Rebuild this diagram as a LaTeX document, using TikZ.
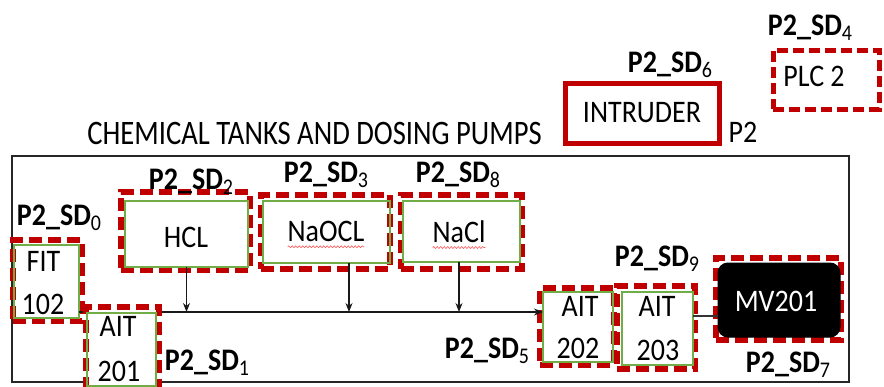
\documentclass[tikz,border=0pt]{standalone}
\usepackage{graphicx}
\usepackage{fontspec}
\setmainfont{Carlito}
\usetikzlibrary{arrows.meta,decorations.pathmorphing}
\definecolor{dred}{RGB}{192,0,0}
\definecolor{igreen}{RGB}{112,173,71}
\definecolor{lblue}{RGB}{0,176,240}
\definecolor{squigred}{RGB}{255,90,90}
\newcommand{\vs}[1]{\scalebox{1}[1.12]{#1}}
\newcommand{\sdlabel}[1]{\vs{P2\_SD\raisebox{-5pt}{\mdseries\fontsize{20}{20}\selectfont #1}}}
\begin{document}
\begin{tikzpicture}[x=1pt,y=-1pt,
  every node/.style={inner sep=0pt, outer sep=0pt},
  frame/.style={draw=black!85, line width=1.6pt},
  sdbox/.style={draw=dred, line width=6pt, dash pattern=on 13pt off 6pt},
  gbox/.style={draw=igreen, line width=1.2pt},
  plcbox/.style={preaction={draw=lblue, line width=0.9pt}, draw=dred, line width=5pt, dash pattern=on 11pt off 5pt},
  intbox/.style={draw=dred, line width=5pt},
  mvbox/.style={draw=black, fill=black, rounded corners=10pt, line width=1pt},
  txt/.style={font=\fontsize{28}{34}\selectfont},
  lbl/.style={font=\bfseries\fontsize{28}{34}\selectfont, anchor=base},
  flow/.style={line width=1.3pt, draw=black!90, -{Stealth[length=9pt,width=7pt]}},
  plain/.style={line width=1.3pt, draw=black!80},
  squig/.style={draw=squigred, line width=0.6pt, decorate, decoration={snake, amplitude=1pt, segment length=3.5pt}}
]
\useasboundingbox (0,0) rectangle (884,386);
\coordinate (bus) at (0,312);
\coordinate (mvline) at (0,316);

% frame and title
\node[frame, minimum width=837pt, minimum height=226pt] (frame) at (430.5,269) {};
\node[font=\fontsize{28.6}{34}\selectfont] (title) at (314.5,133.5) {\scalebox{1}[1.2]{CHEMICAL TANKS AND DOSING PUMPS}};

% boxes (outer dashed)
\node[sdbox, minimum width=129pt, minimum height=78pt] (hclo) at (185.5,231) {};
\node[sdbox, minimum width=129pt, minimum height=74pt] (naoclo) at (325.5,232) {};
\node[sdbox, minimum width=121pt, minimum height=74pt] (naclo) at (461.5,232) {};
\node[sdbox, minimum width=69pt, minimum height=81pt] (fito) at (47.5,280.5) {};
\node[sdbox, minimum width=74pt, minimum height=77pt] (ait202o) at (577,326.5) {};
\node[sdbox, minimum width=78pt, minimum height=83pt] (ait203o) at (656,327.5) {};
\node[sdbox, minimum width=125pt, minimum height=82pt] (mvo) at (778.5,299) {};
\node[plcbox, minimum width=106pt, minimum height=59pt] (plc) at (826,79.5) {};
\node[intbox, minimum width=154pt, minimum height=60pt] (intruder) at (642.5,113.5) {};

% inner boxes
\node[gbox, minimum width=123pt, minimum height=66pt] (hcli) at (186.5,234) {};
\node[gbox, minimum width=127pt, minimum height=62pt] (naocli) at (326.5,232) {};
\node[gbox, minimum width=117pt, minimum height=61pt] (nacli) at (461.5,231.5) {};
\node[gbox, minimum width=65pt, minimum height=73pt] (fiti) at (46.5,281.5) {};
\node[gbox, minimum width=70pt, minimum height=70pt] (ait202i) at (578,327) {};
\node[gbox, minimum width=71pt, minimum height=73pt] (ait203i) at (657.5,328.5) {};
\node[mvbox, minimum width=122pt, minimum height=74pt] (mvi) at (779,300) {};

% connectors
\draw[flow] (fiti.east |- bus) -- (ait202i.west |- bus);
\draw[flow] (hcli.south) -- (hcli.south |- bus);
\draw[flow] ([xshift=22.5pt]naocli.south) -- ([xshift=22.5pt]naocli.south |- bus);
\draw[flow] ([xshift=-2.5pt]nacli.south) -- ([xshift=-2.5pt]nacli.south |- bus);
\draw[plain] (ait203i.east |- mvline) -- (mvi.west |- mvline);

% AIT 201 (drawn over the bus line)
\node[sdbox, fill=white, minimum width=73pt, minimum height=88pt] (ait201o) at (122.5,351) {};
\node[gbox, minimum width=69pt, minimum height=73pt] (ait201i) at (121.5,349.5) {};

% texts
\node[txt] (hcl) at (186,237) {\vs{HCL}};
\node[txt] (naocl) at (326,231.5) {\vs{NaOCL}};
\node[txt] (nacl) at (459,231.5) {\vs{NaCl}};
\draw[squig] ([yshift=-5pt]naocl.south west) -- ([yshift=-5pt]naocl.south east);
\draw[squig] ([yshift=-5pt]nacl.south west) -- ([yshift=-5pt]nacl.south east);
\node[txt] (fit1) at (43.5,261) {\vs{FIT}};
\node[txt] (fit2) at (43,304.5) {\vs{102}};
\node[txt] (a2011) at (118,326.5) {\vs{AIT}};
\node[txt] (a2012) at (119,371) {\vs{201}};
\node[txt] (a2021) at (580,306) {\vs{AIT}};
\node[txt] (a2022) at (578,348.5) {\vs{202}};
\node[txt] (a2031) at (657,306) {\vs{AIT}};
\node[txt] (a2032) at (658,350.5) {\vs{203}};
\node[txt, text=white] (mvt) at (776,301) {\vs{MV201}};
\node[txt] (intt) at (642,112.5) {\vs{INTRUDER}};
\node[txt] (plct) at (814,76.5) {\vs{PLC 2}};
\node[txt, anchor=base] (p2) at (743,142) {\vs{P2}};

% labels
\node[lbl] (sd0) at (59,225) {\sdlabel{0}};
\node[lbl] (sd1) at (207,370) {\sdlabel{1}};
\node[lbl] (sd2) at (191,189) {\sdlabel{2}};
\node[lbl] (sd3) at (326,182) {\sdlabel{3}};
\node[lbl] (sd4) at (810,35) {\sdlabel{4}};
\node[lbl] (sd5) at (487,358) {\sdlabel{5}};
\node[lbl] (sd6) at (670,72) {\sdlabel{6}};
\node[lbl] (sd7) at (788,372) {\sdlabel{7}};
\node[lbl] (sd8) at (458,182) {\sdlabel{8}};
\node[lbl] (sd9) at (657,266) {\sdlabel{9}};
\end{tikzpicture}
\end{document}
